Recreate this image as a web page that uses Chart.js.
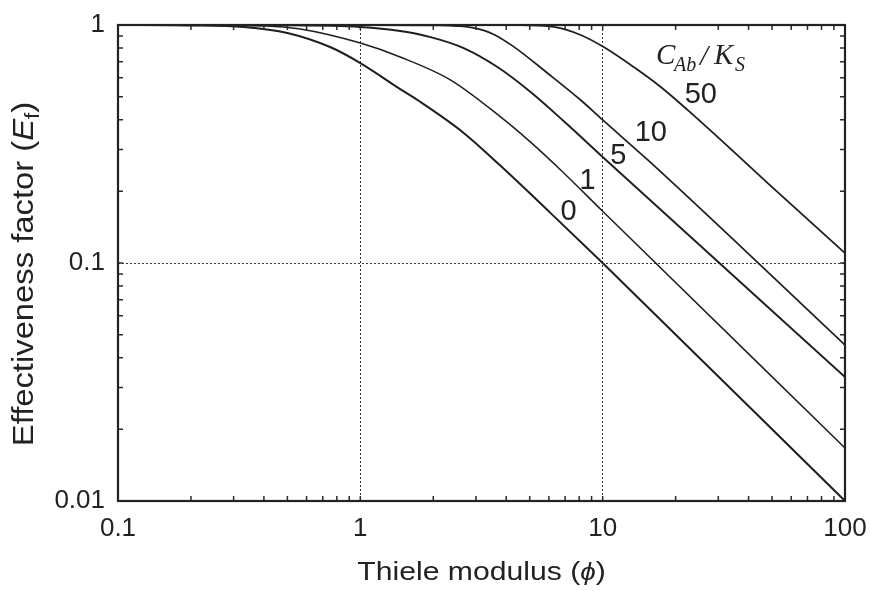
<!DOCTYPE html>
<html>
<head>
<meta charset="utf-8">
<script src="https://cdn.jsdelivr.net/npm/chart.js@4.4.1/dist/chart.umd.min.js"></script>
<style>
  html, body { margin: 0; padding: 0; background: #fff; }
</style>
</head>
<body>
<canvas id="chart" width="870" height="591"></canvas>
<script>
// values (Thiele modulus vs effectiveness factor)
const phi0 = [0.1, 0.2, 0.33, 0.5, 0.75, 1, 1.46, 1.72, 2.67, 3.79, 6.1, 10, 100];
const ef0 = [1, 0.996, 0.981, 0.926, 0.808, 0.692, 0.538, 0.484, 0.352, 0.256, 0.162, 0.1, 0.01];

const phi1 = [0.1, 0.41, 0.565, 1, 1.46, 2.36, 3.79, 5.04, 6.71, 10, 100];
const ef1 = [1, 0.99, 0.962, 0.84, 0.734, 0.587, 0.411, 0.322, 0.246, 0.165, 0.0167];

const phi5 = [0.1, 0.5, 1, 1.46, 1.95, 2.67, 3.68, 5.04, 6.9, 10, 100];
const ef5 = [1, 0.997, 0.981, 0.944, 0.89, 0.8, 0.666, 0.523, 0.395, 0.279, 0.0332];

const phi10 = [0.1, 1, 2.14, 2.5, 2.93, 3.54, 4.29, 5.93, 8.11, 10, 15.35, 100];
const ef10 = [1, 0.999, 0.996, 0.99, 0.972, 0.915, 0.811, 0.627, 0.484, 0.399, 0.271, 0.0452];

const phi50 = [0.1, 4.58, 6.29, 8.11, 10.1, 13.43, 17.37, 22.45, 29.87, 48.1, 100];
const ef50 = [1, 0.999, 0.981, 0.908, 0.808, 0.666, 0.549, 0.439, 0.338, 0.216, 0.11];

const curveNames = ['0', '1', '5', '10', '50'];
const labelPhi = [7.24, 8.67, 11.6, 15.8, 25.4];
const labelEf = [0.163, 0.221, 0.2815, 0.353, 0.506];

const xTickLabels = ['0.1', '1', '10', '100'];
const yTickLabels = ['0.01', '0.1', '1'];
const xGridAt = [1, 10];
const yGridAt = [0.1];

function pts(xs, ys) {
  return xs.map((v, i) => ({ x: v, y: ys[i] }));
}

// 1..9 in every decade, for the minor ticks
function decadeTicks(labels) {
  const vals = labels.map(Number);
  const out = [];
  for (let i = 0; i < vals.length - 1; i++) {
    for (let k = 1; k < 10; k++) out.push(Number((vals[i] * k).toPrecision(3)));
  }
  out.push(vals[vals.length - 1]);
  return out.map(v => ({ value: v }));
}

const sans = "'Liberation Sans', Arial, sans-serif";
const ink = '#222';

function series(name, xs, ys, w) {
  return {
    label: name,
    data: pts(xs, ys),
    borderColor: '#1e1e1e',
    borderWidth: w,
    pointRadius: 0,
    fill: false,
    cubicInterpolationMode: 'monotone'
  };
}

function drawParts(ctx, parts) {
  let cx = 0;
  parts.forEach(p => {
    ctx.font = p.font;
    ctx.fillText(p.text, cx, p.dy || 0);
    cx += ctx.measureText(p.text).width;
  });
}

function partsWidth(ctx, parts) {
  let w = 0;
  parts.forEach(p => { ctx.font = p.font; w += ctx.measureText(p.text).width; });
  return w;
}

const decorPlugin = {
  id: 'decor',
  afterDraw(chart) {
    const { ctx, chartArea: a, scales: { x, y } } = chart;
    ctx.save();

    // inward ticks on all four sides
    ctx.strokeStyle = '#2a2a2a';
    ctx.lineWidth = 1.5;
    ctx.beginPath();
    x.ticks.forEach(t => {
      const px = x.getPixelForValue(t.value);
      ctx.moveTo(px, a.bottom); ctx.lineTo(px, a.bottom - 5);
      ctx.moveTo(px, a.top); ctx.lineTo(px, a.top + 5);
    });
    y.ticks.forEach(t => {
      const py = y.getPixelForValue(t.value);
      ctx.moveTo(a.left, py); ctx.lineTo(a.left + 5, py);
      ctx.moveTo(a.right, py); ctx.lineTo(a.right - 5, py);
    });
    ctx.stroke();

    ctx.lineWidth = 2.2;
    ctx.strokeStyle = ink;
    ctx.strokeRect(a.left, a.top, a.right - a.left, a.bottom - a.top);

    // curve labels
    ctx.fillStyle = ink;
    ctx.font = '29px ' + sans;
    ctx.textAlign = 'center';
    ctx.textBaseline = 'middle';
    curveNames.forEach((n, i) => {
      ctx.fillText(n, x.getPixelForValue(labelPhi[i]), y.getPixelForValue(labelEf[i]));
    });

    // C_Ab / K_S
    ctx.textAlign = 'left';
    ctx.textBaseline = 'alphabetic';
    const bx = x.getPixelForValue(16.6);
    const by = y.getPixelForValue(0.686);
    const serif = "'Liberation Serif', 'DejaVu Serif', serif";
    ctx.font = 'italic 29px ' + serif;
    ctx.fillText('C', bx, by);
    ctx.font = 'italic 20px ' + serif;
    ctx.fillText('Ab', bx + 18, by + 7);
    ctx.font = 'italic 29px ' + serif;
    ctx.fillText('/', bx + 44, by + 1);
    ctx.fillText('K', bx + 58, by);
    ctx.font = 'italic 20px ' + serif;
    ctx.fillText('S', bx + 79, by + 7);

    // x title
    const xParts = [
      { text: 'Thiele modulus (', font: '26px ' + sans },
      { text: '\u03d5', font: 'italic 24px ' + sans },
      { text: ')', font: '26px ' + sans }
    ];
    const sxX = 1.16;
    const wX = partsWidth(ctx, xParts) * sxX;
    ctx.save();
    ctx.translate((a.left + a.right) / 2 - wX / 2, 580);
    ctx.scale(sxX, 1);
    drawParts(ctx, xParts);
    ctx.restore();

    // y title
    const yParts = [
      { text: 'Effectiveness factor (', font: '29px ' + sans },
      { text: 'E', font: 'italic 29px ' + sans },
      { text: 'f', font: '20px ' + sans, dy: 6 },
      { text: ')', font: '29px ' + sans }
    ];
    const sxY = 1.13;
    const wY = partsWidth(ctx, yParts) * sxY;
    ctx.save();
    ctx.translate(33, 274 + wY / 2);
    ctx.rotate(-Math.PI / 2);
    ctx.scale(sxY, 1);
    drawParts(ctx, yParts);
    ctx.restore();

    ctx.restore();
  }
};

const ctx = document.getElementById('chart').getContext('2d');
new Chart(ctx, {
  type: 'line',
  data: {
    datasets: [
      series(curveNames[0], phi0, ef0, 2),
      series(curveNames[1], phi1, ef1, 1.5),
      series(curveNames[2], phi5, ef5, 1.9),
      series(curveNames[3], phi10, ef10, 1.7),
      series(curveNames[4], phi50, ef50, 1.8)
    ]
  },
  options: {
    responsive: false,
    animation: false,
    devicePixelRatio: 1,
    layout: { padding: { left: 0, right: 25, top: 25, bottom: 0 } },
    plugins: { legend: { display: false }, tooltip: { enabled: false } },
    scales: {
      x: {
        type: 'logarithmic',
        min: 0.1,
        max: 100,
        afterBuildTicks: s => { s.ticks = decadeTicks(xTickLabels); },
        afterFit: s => { s.height = 90; s.paddingLeft = 0; s.paddingRight = 0; },
        ticks: {
          autoSkip: false,
          maxRotation: 0,
          padding: 12,
          color: ink,
          font: { family: sans, size: 26 },
          callback: v => {
            const i = xTickLabels.map(Number).indexOf(v);
            return i >= 0 ? xTickLabels[i] : '';
          }
        },
        grid: {
          drawTicks: false,
          lineWidth: 1,
          color: c => xGridAt.includes(c.tick && c.tick.value) ? '#333' : 'rgba(0,0,0,0)'
        },
        border: { display: false, dash: [2, 2] }
      },
      y: {
        type: 'logarithmic',
        min: 0.01,
        max: 1,
        afterBuildTicks: s => { s.ticks = decadeTicks(yTickLabels); },
        afterFit: s => { s.width = 118; s.paddingTop = 0; s.paddingBottom = 0; },
        ticks: {
          autoSkip: false,
          padding: 13,
          color: ink,
          font: { family: sans, size: 26 },
          callback: v => {
            const i = yTickLabels.map(Number).indexOf(v);
            return i >= 0 ? yTickLabels[i] : '';
          }
        },
        grid: {
          drawTicks: false,
          lineWidth: 1,
          color: c => yGridAt.includes(c.tick && c.tick.value) ? '#333' : 'rgba(0,0,0,0)'
        },
        border: { display: false, dash: [2, 2] }
      }
    }
  },
  plugins: [decorPlugin]
});
</script>
</body>
</html>
